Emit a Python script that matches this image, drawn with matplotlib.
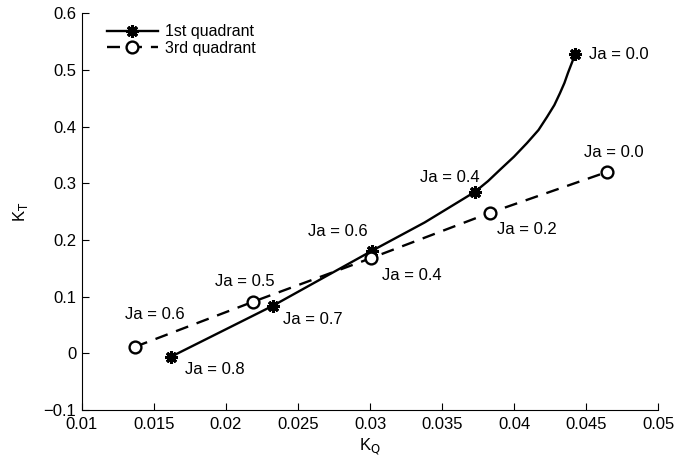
import matplotlib
matplotlib.use("Agg")
import matplotlib.pyplot as plt

plt.rcParams['font.family'] = ['Liberation Sans', 'DejaVu Sans']

# 1st quadrant curve (KQ, KT)
q1_kq = [0.01618, 0.02326, 0.03014, 0.0338, 0.03729, 0.0382, 0.03903, 0.0400, 0.04090,
         0.0417, 0.04229, 0.0428, 0.04319, 0.0435, 0.04375, 0.04410, 0.04424]
q1_kt = [-0.006, 0.084, 0.181, 0.231, 0.285, 0.304, 0.324, 0.347, 0.371,
         0.394, 0.417, 0.438, 0.459, 0.477, 0.495, 0.518, 0.528]
q1_mark_idx = [0, 1, 2, 4, 16]
q1_labels = ["Ja = 0.8", "Ja = 0.7", "Ja = 0.6", "Ja = 0.4", "Ja = 0.0"]

# 3rd quadrant points
q3_kq = [0.01368, 0.02188, 0.03007, 0.03833, 0.04646]
q3_kt = [0.0115, 0.091, 0.168, 0.248, 0.320]
q3_labels = ["Ja = 0.6", "Ja = 0.5", "Ja = 0.4", "Ja = 0.2", "Ja = 0.0"]

fig = plt.figure(figsize=(6.76, 4.61), dpi=100)
ax = fig.add_axes([0.1213, 0.1106, 0.8521, 0.8606])

star = (8, 2, 0)
ax.plot(q1_kq, q1_kt, '-', color='black', lw=1.7, marker=star, markersize=9,
        markeredgewidth=2.2, markevery=q1_mark_idx, markerfacecolor='black',
        markeredgecolor='black', label='1st quadrant', solid_joinstyle='round')
ax.plot(q3_kq, q3_kt, '--', color='black', lw=1.7, dashes=(5.5, 3.8), marker='o', markersize=8.5,
        markerfacecolor='white', markeredgecolor='black', markeredgewidth=1.7,
        label='3rd quadrant')

fs = 12
px = 0.72  # pixels -> points
# offsets in pixels (dx, dy up)
q1_offsets = [(14, -13), (10, -14), (-4, 19), (5, 14), (14, 0)]
q1_align = [('left', 'center'), ('left', 'center'), ('right', 'center'), ('right', 'center'), ('left', 'center')]
for i, lab, off, al in zip(q1_mark_idx, q1_labels, q1_offsets, q1_align):
    ax.annotate(lab, (q1_kq[i], q1_kt[i]), xytext=(off[0] * px, off[1] * px),
                textcoords='offset points', ha=al[0], va=al[1], fontsize=fs)

q3_offsets = [(20, 32), (-8, 20), (11, -17), (7, -17), (7, 19)]
q3_align = [('center', 'center'), ('center', 'center'), ('left', 'center'), ('left', 'center'), ('center', 'center')]
for x, y, lab, off, al in zip(q3_kq, q3_kt, q3_labels, q3_offsets, q3_align):
    ax.annotate(lab, (x, y), xytext=(off[0] * px, off[1] * px),
                textcoords='offset points', ha=al[0], va=al[1], fontsize=fs)

ax.set_xlim(0.01, 0.05)
ax.set_ylim(-0.1, 0.6)
ax.set_xticks([0.01, 0.015, 0.02, 0.025, 0.03, 0.035, 0.04, 0.045, 0.05])
ax.set_xticklabels(['0.01', '0.015', '0.02', '0.025', '0.03', '0.035', '0.04', '0.045', '0.05'])
ax.set_yticks([-0.1, 0, 0.1, 0.2, 0.3, 0.4, 0.5, 0.6])
ax.set_yticklabels(['\u22120.1', '0', '0.1', '0.2', '0.3', '0.4', '0.5', '0.6'])
ax.tick_params(direction='in', length=5, labelsize=fs, top=False, right=False)
ax.tick_params(axis='x', pad=5)
ax.tick_params(axis='y', pad=4)
ax.spines['top'].set_visible(False)
ax.spines['right'].set_visible(False)
ax.set_xlabel('K$_\\mathrm{Q}$', fontsize=fs, labelpad=3)
ax.set_ylabel('K$_\\mathrm{T}$', fontsize=fs, labelpad=10)

ax.legend(loc='upper left', frameon=False, fontsize=11.5, handlelength=3.2,
          borderaxespad=0.0, borderpad=0.0, handletextpad=0.45, labelspacing=0.1,
          bbox_to_anchor=(0.043, 0.972))

fig.savefig('out.png', dpi=100)
